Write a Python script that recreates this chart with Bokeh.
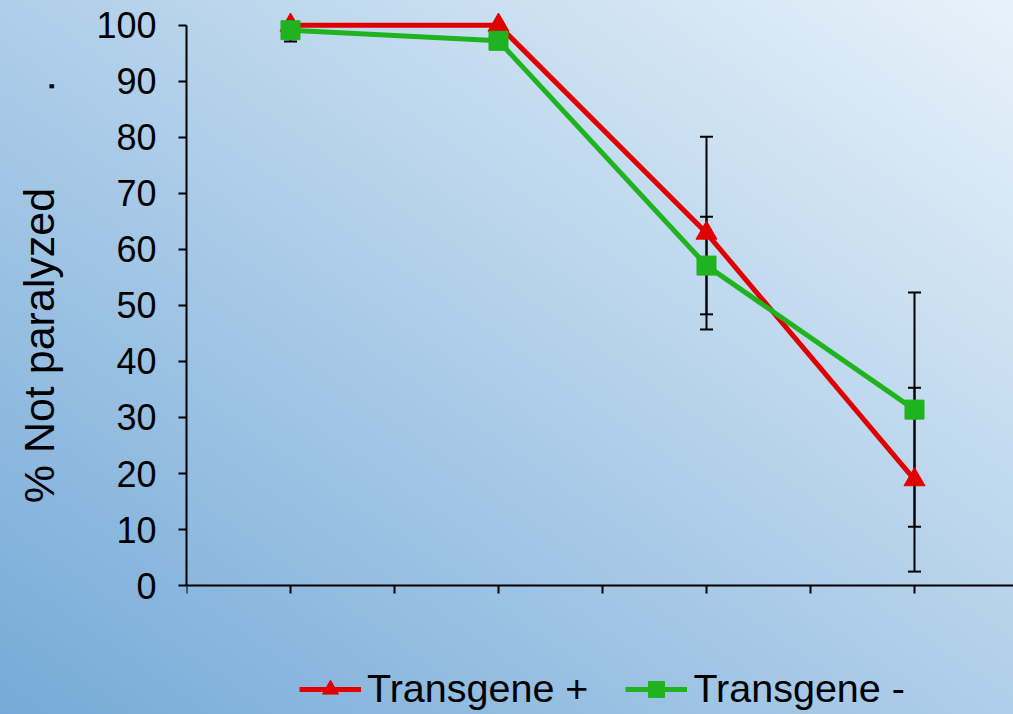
import numpy as np
from bokeh.plotting import figure
from bokeh.models import (Range1d, FixedTicker, Whisker, TeeHead, ColumnDataSource,
                          Legend, LegendItem)
from bokeh.embed import file_html
from bokeh.resources import INLINE

# x positions of the four measurement points
timepoints = [1, 3, 5, 7]

# % not paralyzed, mean and error per point
pos_mean = [100.0, 100.0, 62.9, 18.9]
pos_err = [0.0, 0.0, 17.2, 16.4]
neg_mean = [99.1, 97.2, 57.1, 31.4]
neg_err = [2.0, 0.0, 8.7, 20.9]

y_ticks = [0, 10, 20, 30, 40, 50, 60, 70, 80, 90, 100]
x_ticks = [0, 1, 2, 3, 4, 5, 6, 7]
y_max = 100

RED = "#E00000"
GREEN = "#1FB41F"
FONT = "Liberation Sans"

# the frame runs under the x axis so the legend can sit below it
p = figure(width=1013, height=714, output_backend="svg", toolbar_location=None,
           x_range=Range1d(0, 7.952), y_range=Range1d(-23.0, 104.4),
           min_border_left=186, min_border_right=0, min_border_top=0,
           min_border_bottom=0)

p.background_fill_color = None
p.border_fill_color = None
p.outline_line_color = None
p.styles = {"background": "linear-gradient(to top right, #76aad8 0%, #e8f2fa 100%)"}
p.xgrid.visible = False
p.ygrid.visible = False

# axes
p.yaxis.ticker = FixedTicker(ticks=y_ticks)
p.yaxis.bounds = (0, y_max)
p.xaxis.ticker = FixedTicker(ticks=x_ticks)
p.xaxis.fixed_location = 0
p.xaxis.major_label_overrides = {t: "" for t in x_ticks}
p.xaxis.major_label_standoff = 0
p.xaxis.minor_tick_line_color = None
p.yaxis.minor_tick_line_color = None
for ax in (p.xaxis, p.yaxis):
    ax.axis_line_color = "black"
    ax.axis_line_width = 2
    ax.major_tick_line_color = "black"
    ax.major_tick_line_width = 2
    ax.major_tick_out = 8
    ax.major_tick_in = 0
p.yaxis.major_label_text_font = FONT
p.yaxis.major_label_text_font_size = "36px"
p.yaxis.major_label_text_color = "black"
p.yaxis.major_label_standoff = 22
# padded with no-break spaces so the title sits level with the 0-100 scale
p.yaxis.axis_label = "\u00a0" * 11 + "% Not paralyzed" + "\u00a0" * 8 + "."
p.yaxis.axis_label_text_font = FONT
p.yaxis.axis_label_text_font_size = "43px"
p.yaxis.axis_label_text_font_style = "normal"
p.yaxis.axis_label_text_color = "black"
p.yaxis.axis_label_standoff = 30

# error bars, clipped at the top of the axis
def error_source(mean, err):
    m = np.array(mean)
    e = np.array(err)
    return ColumnDataSource(dict(x=timepoints,
                                 upper=np.minimum(m + e, y_max),
                                 lower=m - e))

for mean, err in ((pos_mean, pos_err), (neg_mean, neg_err)):
    w = Whisker(source=error_source(mean, err), base="x", upper="upper", lower="lower",
                line_color="black", line_width=2,
                upper_head=TeeHead(size=13, line_color="black", line_width=2),
                lower_head=TeeHead(size=13, line_color="black", line_width=2),
                level="underlay")
    p.add_layout(w)

red_line = p.line(timepoints, pos_mean, line_color=RED, line_width=5)
red_pts = p.scatter(timepoints, pos_mean, marker="triangle", size=21,
                    fill_color=RED, line_color=RED)
green_line = p.line(timepoints, neg_mean, line_color=GREEN, line_width=5)
green_pts = p.scatter(timepoints, neg_mean, marker="square", size=19,
                      fill_color=GREEN, line_color=GREEN)

legend = Legend(items=[LegendItem(label="Transgene +", renderers=[red_line, red_pts]),
                       LegendItem(label="Transgene -", renderers=[green_line, green_pts])],
                orientation="horizontal", location=(113, 3),
                background_fill_alpha=0, border_line_color=None,
                label_text_font=FONT, label_text_font_size="39.5px",
                label_text_color="black",
                glyph_width=62, glyph_height=40, label_standoff=6,
                spacing=37, padding=0, margin=0)
p.add_layout(legend)

open("out.html", "w").write(file_html(p, INLINE))
